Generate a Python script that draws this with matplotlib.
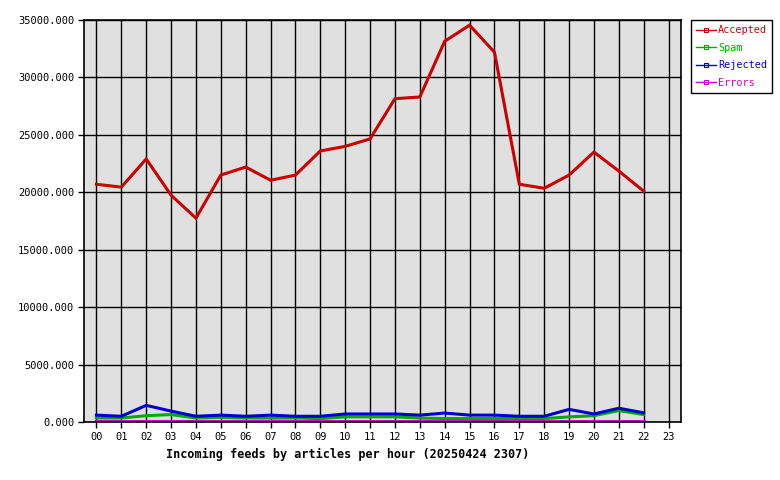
import matplotlib
matplotlib.use('Agg')
import matplotlib.pyplot as plt
from matplotlib.lines import Line2D

hours = list(range(23))
hour_labels = ['%02d' % h for h in range(24)]

accepted = [20700, 20450, 22900, 19750, 17750, 21500, 22200, 21050, 21500, 23600, 24000,
            24650, 28150, 28300, 33150, 34550, 32200, 20700, 20350, 21500, 23500, 21850, 20100]
spam = [350, 350, 550, 650, 350, 400, 350, 350, 350, 300, 450,
        450, 450, 350, 300, 300, 300, 300, 300, 450, 550, 1000, 650]
rejected = [600, 500, 1450, 950, 500, 600, 500, 600, 500, 500, 700,
            700, 700, 600, 780, 600, 600, 500, 500, 1100, 700, 1200, 800]
errors = [50] * 23

series = [('Accepted', accepted, '#cc0000'),
          ('Spam', spam, '#00aa00'),
          ('Rejected', rejected, '#0000cc'),
          ('Errors', errors, '#cc00cc')]

plt.rcParams['font.family'] = 'DejaVu Sans Mono'
plt.rcParams['font.size'] = 7.5

fig = plt.figure(figsize=(7.8, 4.8), dpi=100)
ax = fig.add_axes([0.1077, 0.1208, 0.7654, 0.8375])
ax.set_facecolor('#e0e0e0')

for name, vals, col in series:
    ax.plot(hours, vals, color=col, linewidth=2.2, solid_joinstyle='miter')

ax.set_xlim(-0.5, 23.5)
ax.set_ylim(0, 35000)
ax.set_xticks(range(24))
ax.set_xticklabels(hour_labels)
ax.set_yticks(range(0, 35001, 5000))
ax.set_yticklabels(['%.3f' % v for v in range(0, 35001, 5000)])
ax.grid(True, color='black', linewidth=1)
ax.set_axisbelow(True)
for s in ax.spines.values():
    s.set_linewidth(1.2)
ax.tick_params(length=4, width=1, pad=3)

ax.set_xlabel('Incoming feeds by articles per hour (20250424 2307)', fontweight='bold',
              fontsize=8.5, labelpad=4)
ax.xaxis.set_label_coords(0.442, -0.065)

handles = [Line2D([], [], color=col, linewidth=1, marker='s', markersize=2.5,
                  markerfacecolor='none', markeredgewidth=0.8) for _, _, col in series]
leg = ax.legend(handles, [s[0] for s in series], loc='upper left',
                bbox_to_anchor=(1.017, 1.0), frameon=True, fancybox=False,
                framealpha=1, edgecolor='black', handlelength=1.9, handletextpad=0.25,
                labelspacing=0.75, borderpad=0.5, borderaxespad=0, fontsize=7.3)
leg.get_frame().set_linewidth(1)
for t, (_, _, col) in zip(leg.get_texts(), series):
    t.set_color(col)

fig.savefig('out.png', dpi=100)
